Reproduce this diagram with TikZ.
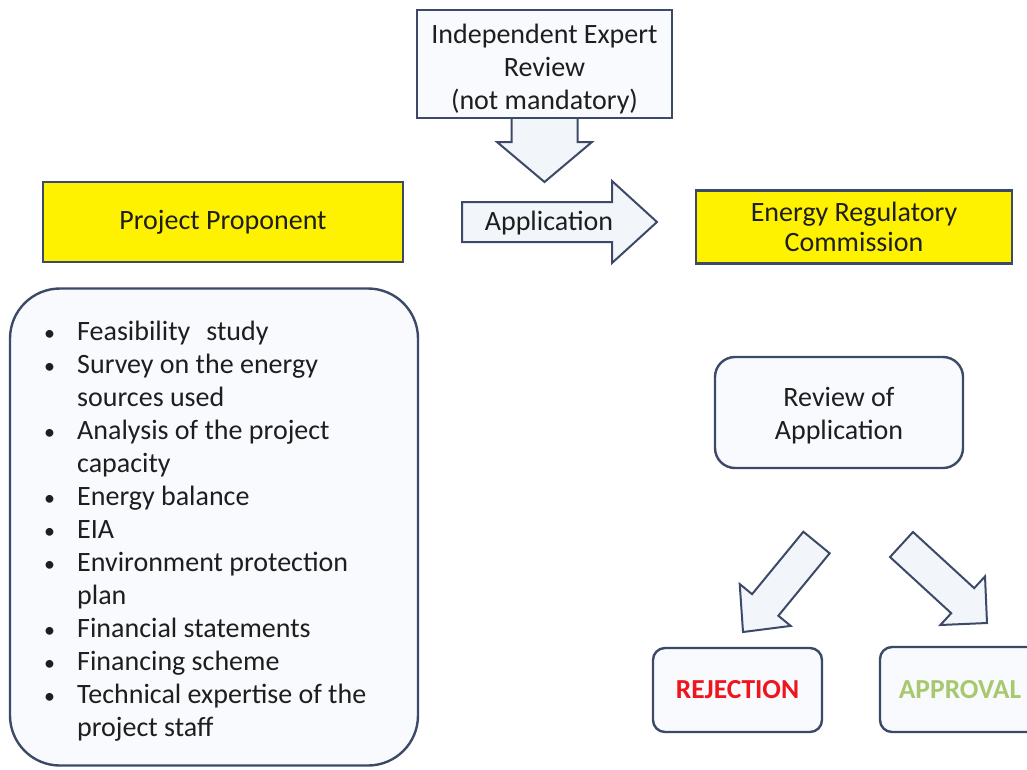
\documentclass[tikz,border=0pt]{standalone}
\usepackage{fontspec}
\setmainfont{Carlito}
\usetikzlibrary{calc}
\definecolor{edge}{HTML}{3C4A68}
\definecolor{boxfill}{HTML}{F8FAFD}
\definecolor{arrfill}{HTML}{F2F6FB}
\definecolor{txt}{HTML}{1E1E1E}
\definecolor{rej}{HTML}{F0141E}
\definecolor{appr}{HTML}{A8C86E}
\newcommand\blockarrow[5]{%
  \coordinate (ba-h) at ($(#2)!#5!(#1)$);
  \filldraw[blockarr] ($(#1)!#3!90:(#2)$) -- ($(ba-h)!#3!90:(#2)$) -- ($(ba-h)!#4!90:(#2)$) -- (#2)
    -- ($(ba-h)!#4!-90:(#2)$) -- ($(ba-h)!#3!-90:(#2)$) -- ($(#1)!#3!-90:(#2)$) -- cycle;}
\newcommand\bul{\makebox[33pt][l]{\fontsize{22}{33}\selectfont\textbullet}}
\begin{document}
\begin{tikzpicture}[x=1pt,y=-1pt,
  every node/.style={text=txt, font=\fontsize{28}{33}\selectfont, inner sep=0pt},
  ybox/.style={draw=edge, fill=yellow, line width=2.4pt},
  lbox/.style={draw=edge, fill=boxfill, line width=2.4pt},
  blockarr/.style={draw=edge, fill=arrfill, line width=2pt, line join=miter}]
\useasboundingbox (0,0) rectangle (1027,769);
\clip (0,0) rectangle (1027,769);

% boxes
\node[ybox, minimum width=360, minimum height=80] (pp) at (223,222) {Project Proponent};
\node[ybox, minimum width=316, minimum height=73, align=center, font=\fontsize{28}{30}\selectfont] (erc) at (854,227) {Energy Regulatory\\Commission};
\node[lbox, minimum width=248, minimum height=111, rounded corners=20] (rev) at (839,412.5) {};
\node[align=center] (revtext) at ($(rev.center)+(0,3)$) {Review of\\Application};
\node[lbox, minimum width=408, minimum height=477, rounded corners=50] (req) at (214,527) {};
\node[anchor=base west] (reqtext) at (44,340) {%
\begin{tabular}[t]{@{}l@{}l@{}}
\bul & Feasibility\hspace{16pt}study\\
\bul & Survey on the energy\\
 & sources used\\
\bul & Analysis of the project\\
 & capacity\\
\bul & Energy balance\\
\bul & EIA\\
\bul & Environment protection\\
 & plan\\
\bul & Financial statements\\
\bul & Financing scheme\\
\bul & Technical expertise of the\\
 & project staff
\end{tabular}};
\node[lbox, minimum width=169, minimum height=84, rounded corners=12, text=rej, font=\fontsize{27.5}{30}\selectfont\bfseries] (rej) at (737.5,690) {REJECTION};
\node[lbox, minimum width=160, minimum height=85, rounded corners=12, text=appr, font=\fontsize{27.5}{30}\selectfont\bfseries] (app) at (960,689.5) {APPROVAL};

% expert review box and its arrow
\coordinate (dtail) at (544.5,110);
\coordinate (dtip) at (544.5,182);
\blockarrow{dtail}{dtip}{33pt}{47.5pt}{40pt}
\node[lbox, minimum width=255, minimum height=108] (exp) at (544.5,64) {};
\node[align=center] (exptext) at ($(exp.center)+(0,5)$) {Independent Expert\\Review\\(not mandatory)};

% application arrow
\coordinate (atail) at (462,222);
\coordinate (atip) at (657,222);
\blockarrow{atail}{atip}{20pt}{41pt}{45pt}
\node (applbl) at (549,223) {Application};

% decision arrows
\coordinate (rtail) at (816.5,542.5);
\coordinate (rtip) at (743,632);
\blockarrow{rtail}{rtip}{17pt}{33pt}{35pt}
\coordinate (ptail) at (901.5,544.5);
\coordinate (ptip) at (987,623);
\blockarrow{ptail}{ptip}{17pt}{33pt}{33pt}
\end{tikzpicture}
\end{document}
